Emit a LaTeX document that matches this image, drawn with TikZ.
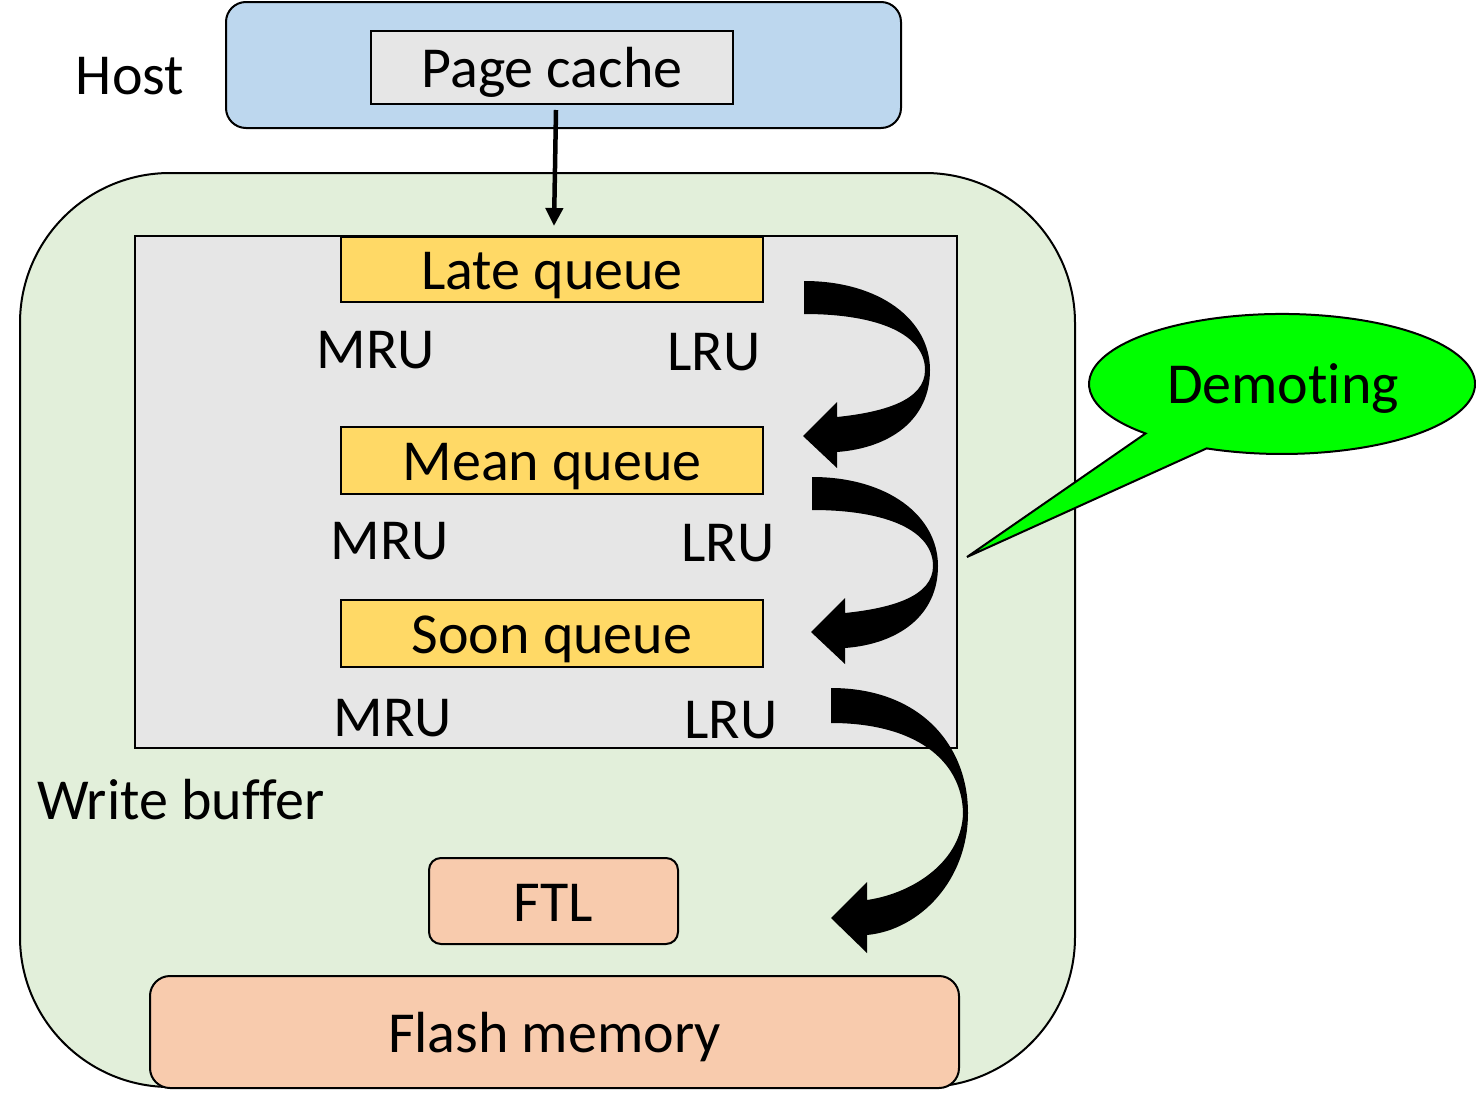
\documentclass[tikz,border=0pt]{standalone}
\usepackage{fontspec}
\setmainfont{Carlito}[Ligatures=NoCommon]
\usetikzlibrary{arrows.meta}
\definecolor{hostblue}{HTML}{BDD7EE}
\definecolor{pcgray}{HTML}{E6E6E6}
\definecolor{wbgreen}{HTML}{E2EFDA}
\definecolor{qyellow}{HTML}{FFD966}
\definecolor{flashorange}{HTML}{F8CBAD}
\definecolor{demgreen}{HTML}{00FF00}
\begin{document}
\begin{tikzpicture}[x=1pt,y=-1pt,
  every node/.style={font=\fontsize{58}{62}\selectfont, inner sep=0pt, outer sep=0pt},
  box/.style={draw, line width=2pt, text height=40pt, text depth=0pt, anchor=center},
  lbl/.style={anchor=base},
  bigarrow/.style={fill=black, draw=none},
  feed/.style={line width=4.5pt, -{Triangle[length=18pt,width=17pt]}}]
\useasboundingbox (0,0) rectangle (1476,1103);

% Host
\node[box, fill=hostblue, rounded corners=20pt, minimum width=675, minimum height=126] (host) at (563.5,65) {};
\node[lbl] (hostlbl) at (130,94) {Host};
\node[box, fill=pcgray, minimum width=362, minimum height=73] (pc) at (552,67.5) {Page cache};

% Write buffer area
\node[box, fill=wbgreen, rounded corners=150pt, minimum width=1055, minimum height=914] (wb) at (547.5,630) {};
\node[box, fill=pcgray, minimum width=822, minimum height=512] (qarea) at (546,492) {};

\node[box, fill=qyellow, minimum width=422, minimum height=65] (late) at (552,269.5) {Late queue};
\node[box, fill=qyellow, minimum width=422, minimum height=67] (mean) at (552,460.5) {Mean queue};
\node[box, fill=qyellow, minimum width=422, minimum height=67] (soon) at (552,633.5) {Soon queue};

\node[lbl] (mru1) at (376,368) {MRU};
\node[lbl] (lru1) at (714,370) {LRU};
\node[lbl] (mru2) at (390,559) {MRU};
\node[lbl] (lru2) at (728,561) {LRU};
\node[lbl] (mru3) at (393,736) {MRU};
\node[lbl] (lru3) at (731,738) {LRU};

\node[anchor=base west] (wblbl) at (37,819) {Write buffer};

\node[box, fill=flashorange, rounded corners=12pt, minimum width=249, minimum height=86] (ftl) at (553.5,901) {FTL};
\node[box, fill=flashorange, rounded corners=20pt, minimum width=809, minimum height=112] (flash) at (554.5,1032) {Flash memory};

% arrow from page cache into the write buffer
\coordinate (wbin) at (554,226);
\draw[feed] ([xshift=4pt,yshift=-6pt]pc.south) -- (wbin);

% curved demotion arrows
\path[bigarrow] (804,281) .. controls (880,281) and (930,320) .. (930,370)
  .. controls (930,420) and (890,448) .. (837,452) -- (837,468) -- (803,436) -- (837,402) -- (837,417)
  .. controls (885,412) and (925,400) .. (925,370)
  .. controls (925,335) and (880,314) .. (804,314) -- cycle;
\begin{scope}[shift={(8,196)}]
\path[bigarrow] (804,281) .. controls (880,281) and (930,320) .. (930,370)
  .. controls (930,420) and (890,448) .. (837,452) -- (837,468) -- (803,436) -- (837,402) -- (837,417)
  .. controls (885,412) and (925,400) .. (925,370)
  .. controls (925,335) and (880,314) .. (804,314) -- cycle;
\end{scope}
\path[bigarrow] (831,688) .. controls (920,688) and (968,745) .. (968,813)
  .. controls (968,880) and (920,930) .. (867,935) -- (867,953) -- (831,918) -- (867,882) -- (867,900)
  .. controls (915,893) and (962,860) .. (963,813)
  .. controls (962,760) and (915,723) .. (831,723) -- cycle;

% Demoting callout
\draw[line width=2pt, fill=demgreen, line join=miter]
  (1206.6,448.4) arc[start angle=113, end angle=-225, x radius=193, y radius=70] -- (967,557) -- cycle;
\node[lbl] (dem) at (1283,403) {Demoting};
\end{tikzpicture}
\end{document}
